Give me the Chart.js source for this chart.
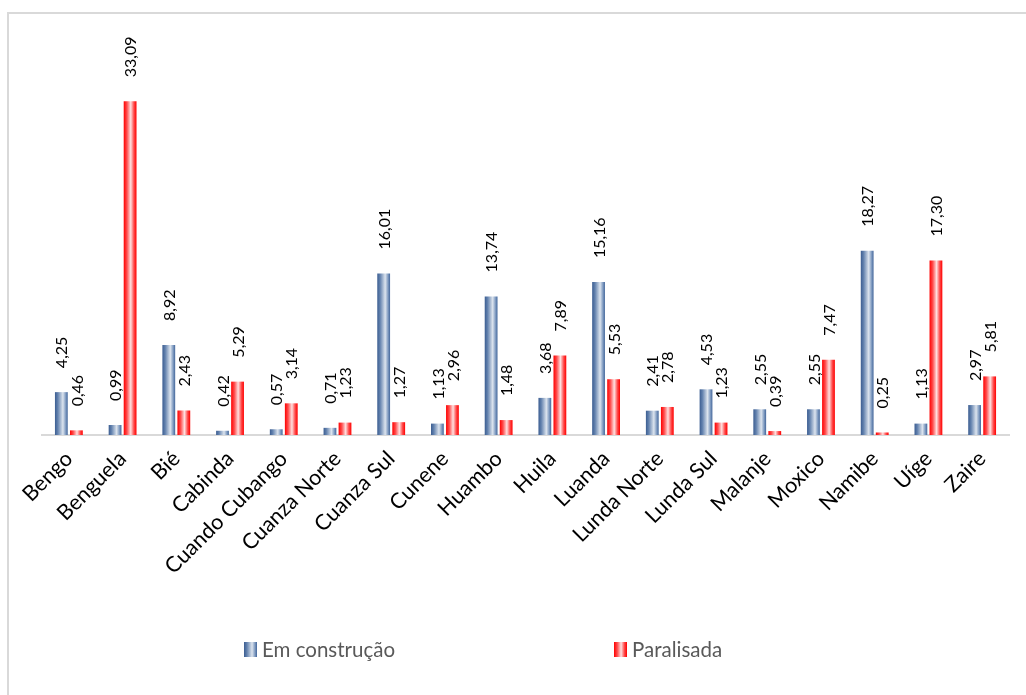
<!DOCTYPE html>
<html>
<head>
<meta charset="utf-8">
<title>Obras por província</title>
<style>
  html, body { margin: 0; padding: 0; background: #ffffff; }
  #wrap { position: relative; width: 1026px; height: 695px; }
</style>
<script src="https://cdn.jsdelivr.net/npm/chart.js@4.4.1/dist/chart.umd.min.js"></script>
</head>
<body>
<div id="wrap"><canvas id="chart" width="1026" height="695"></canvas></div>
<script>
// Províncias (categorias do eixo X)
const provinces = [
  'Bengo', 'Benguela', 'Bié', 'Cabinda', 'Cuando Cubango', 'Cuanza Norte',
  'Cuanza Sul', 'Cunene', 'Huambo', 'Huila', 'Luanda', 'Lunda Norte',
  'Lunda Sul', 'Malanje', 'Moxico', 'Namibe', 'Uíge', 'Zaire'
];

// Percentagens por estado da obra
const emConstrucao = [
  4.25, 0.99, 8.92, 0.42, 0.57, 0.71, 16.01, 1.13, 13.74,
  3.68, 15.16, 2.41, 4.53, 2.55, 2.55, 18.27, 1.13, 2.97
];
const paralisada = [
  0.46, 33.09, 2.43, 5.29, 3.14, 1.23, 1.27, 2.96, 1.48,
  7.89, 5.53, 2.78, 1.23, 0.39, 7.47, 0.25, 17.30, 5.81
];

const seriesNames = ['Em construção', 'Paralisada'];

const CAT_PCT = 0.56;
const BAR_PCT = 0.85;
const FONT = 'Lato, "Noto Sans", sans-serif';

// Horizontal gradient stops for each series (cylinder-like shading)
const blueStops = [[0, '#3b5d91'], [0.22, '#6382ae'], [0.62, '#dce4ee'], [0.85, '#7c98bf'], [1, '#43669a']];
const redStops  = [[0, '#ff0000'], [0.25, '#ff4d4d'], [0.55, '#ffe0e0'], [0.8, '#ff4a4a'], [1, '#ff0000']];

function makeGradient(ctx, x0, x1, stops) {
  const g = ctx.createLinearGradient(x0, 0, x1, 0);
  stops.forEach(s => g.addColorStop(s[0], s[1]));
  return g;
}

// Bar fill: gradient spanning the width of each individual bar
function barFill(stops) {
  return c => {
    const chart = c.chart;
    const xs = chart.scales && chart.scales.x;
    if (c.type !== 'data' || !xs || !isFinite(xs.left)) return stops[0][1];
    const n = chart.data.labels.length;
    const cat = (xs.right - xs.left) / n;
    const slot = cat * CAT_PCT / 2;
    const center = xs.getPixelForValue(c.dataIndex) + (c.datasetIndex - 0.5) * slot;
    const half = slot * BAR_PCT / 2;
    return makeGradient(chart.ctx, center - half, center + half, stops);
  };
}

const fmt = v => v.toFixed(2).replace('.', ',');

// Light frame along the top and left edges
const framePlugin = {
  id: 'frame',
  beforeDraw(chart) {
    const ctx = chart.ctx;
    ctx.save();
    ctx.fillStyle = '#d9d9d9';
    ctx.fillRect(7, 12, chart.width - 7, 2);
    ctx.fillRect(7, 12, 2, chart.height - 12);
    ctx.restore();
  }
};

// Vertical value labels above each bar
const valueLabels = {
  id: 'valueLabels',
  afterDatasetsDraw(chart) {
    const ctx = chart.ctx;
    ctx.save();
    ctx.font = '16px ' + FONT;
    ctx.fillStyle = '#000000';
    ctx.textAlign = 'left';
    ctx.textBaseline = 'middle';
    chart.data.datasets.forEach((ds, di) => {
      const meta = chart.getDatasetMeta(di);
      meta.data.forEach((el, i) => {
        ctx.save();
        ctx.translate(el.x + 1, el.y - 24);
        ctx.rotate(-Math.PI / 2);
        ctx.fillText(fmt(ds.data[i]), 0, 0);
        ctx.restore();
      });
    });
    ctx.restore();
  }
};

// Legend along the bottom with gradient swatches
const legendPlugin = {
  id: 'gradLegend',
  afterDraw(chart) {
    const ctx = chart.ctx;
    const starts = [244, 614];
    const stops = [blueStops, redStops];
    const y = 642;
    ctx.save();
    ctx.font = '20.5px ' + FONT;
    ctx.textBaseline = 'middle';
    chart.data.datasets.forEach((ds, i) => {
      const x = starts[i];
      ctx.fillStyle = makeGradient(ctx, x, x + 13, stops[i]);
      ctx.fillRect(x, y, 13, 15);
      ctx.fillStyle = '#595959';
      ctx.fillText(ds.label, x + 18, y + 8);
    });
    ctx.restore();
  }
};

new Chart(document.getElementById('chart'), {
  type: 'bar',
  data: {
    labels: provinces,
    datasets: [
      { label: seriesNames[0], data: emConstrucao, backgroundColor: barFill(blueStops) },
      { label: seriesNames[1], data: paralisada, backgroundColor: barFill(redStops) }
    ]
  },
  options: {
    responsive: false,
    animation: false,
    devicePixelRatio: 1,
    datasets: { bar: { categoryPercentage: CAT_PCT, barPercentage: BAR_PCT, borderWidth: 0 } },
    layout: { padding: { left: 42, right: 17, top: 82, bottom: 0 } },
    plugins: { legend: { display: false }, tooltip: { enabled: false } },
    scales: {
      x: {
        grid: { display: false, drawTicks: false },
        border: { display: true, color: '#d9d9d9', width: 2 },
        ticks: {
          color: '#000000',
          font: { family: FONT, size: 21.5 },
          minRotation: 45,
          maxRotation: 45,
          padding: 11,
          autoSkip: false
        },
        afterFit(scale) { scale.height = 260; }
      },
      y: {
        display: false,
        min: 0,
        max: 35
      }
    }
  },
  plugins: [framePlugin, valueLabels, legendPlugin]
});
</script>
</body>
</html>
